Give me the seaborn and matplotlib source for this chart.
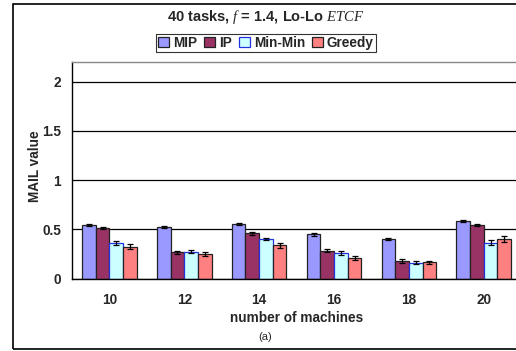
import matplotlib
matplotlib.use("Agg")
import matplotlib.pyplot as plt
from matplotlib.patches import Rectangle
import numpy as np
import pandas as pd
import seaborn as sns

machines = ["10", "12", "14", "16", "18", "20"]
mip = [0.543, 0.523, 0.560, 0.450, 0.400, 0.590]
ip = [0.510, 0.270, 0.460, 0.285, 0.177, 0.550]
minmin = [0.363, 0.275, 0.400, 0.265, 0.163, 0.363]
greedy = [0.326, 0.250, 0.340, 0.210, 0.167, 0.404]

mip_err = [0.008, 0.012, 0.010, 0.012, 0.012, 0.010]
ip_err = [0.010, 0.015, 0.015, 0.012, 0.020, 0.010]
minmin_err = [0.020, 0.015, 0.012, 0.020, 0.012, 0.025]
greedy_err = [0.025, 0.020, 0.025, 0.022, 0.015, 0.030]

methods = ["MIP", "IP", "Min-Min", "Greedy"]
colors = ["#9999FF", "#993366", "#CCFFFF", "#FF8080"]
edges = ["#222222", "#222222", "#2233DD", "#222222"]

values = [mip, ip, minmin, greedy]
errors = [mip_err, ip_err, minmin_err, greedy_err]

df = pd.DataFrame({
    "machines": np.repeat([machines], 4, axis=0).ravel(),
    "method": np.repeat(methods, len(machines)),
    "value": np.concatenate(values),
})

sns.set_style("white")
plt.rcParams["font.family"] = ["Liberation Sans", "DejaVu Sans"]
plt.rcParams["mathtext.fontset"] = "custom"
plt.rcParams["mathtext.it"] = "Liberation Serif:italic"
plt.rcParams["mathtext.rm"] = "Liberation Sans:bold"

FS = 9.8

fig = plt.figure(figsize=(5.16, 3.51), dpi=100)
ax = fig.add_axes([72 / 516, 1 - 278.7 / 351, 1 - 72 / 516 + 0.01, (278.7 - 62) / 351])

sns.barplot(data=df, x="machines", y="value", hue="method", order=machines,
            hue_order=methods, palette=colors, width=0.73, errorbar=None,
            saturation=1, ax=ax, legend=False)

for cont, errs, ec in zip(ax.containers, errors, edges):
    for bar, e in zip(cont, errs):
        bar.set_edgecolor(ec)
        bar.set_linewidth(0.9)
        cx = bar.get_x() + bar.get_width() / 2
        ax.errorbar(cx, bar.get_height(), yerr=e, fmt="none", ecolor="black",
                    elinewidth=0.9, capsize=2, capthick=0.9, zorder=5)

ax.set_ylim(0, 2.2)
ax.set_xlim(-0.5, len(machines) - 0.5)
ax.set_yticks([0, 0.5, 1, 1.5, 2])
ax.set_yticklabels(["0", "0.5", "1", "1.5", "2"], fontweight="bold", fontsize=FS)
ax.set_xticks(range(len(machines)))
ax.set_xticklabels(machines, fontweight="bold", fontsize=FS)
ax.set_xticks(np.arange(-0.5, len(machines), 1), minor=True)
ax.tick_params(axis="x", which="major", length=0, pad=10)
ax.tick_params(axis="x", which="minor", length=4, width=0.9, color="black", direction="out")
ax.tick_params(axis="y", length=4, width=0.9, color="black", direction="out", pad=4)
ax.yaxis.grid(True, color="black", linewidth=0.9)
ax.set_axisbelow(True)
for s in ["left", "bottom"]:
    ax.spines[s].set_color("black")
    ax.spines[s].set_linewidth(1.0)
ax.spines["top"].set_color("#888888")
ax.spines["top"].set_linewidth(1.0)
ax.spines["right"].set_visible(False)

ax.set_xlabel("number of machines", fontweight="bold", fontsize=FS, labelpad=3)
ax.set_ylabel("MAIL value", fontweight="bold", fontsize=FS)
ax.yaxis.set_label_coords(42 / 516, 1 - 166 / 351, transform=fig.transFigure)

fig.text(266 / 516, 1 - 17 / 351, r"40 tasks, $f$ = 1.4, Lo-Lo $ETCF$",
         ha="center", va="center", fontsize=10.5, fontweight="bold")
fig.text(265 / 516, 1 - 337 / 351, "(a)", ha="center", va="center", fontsize=8)

handles = [Rectangle((0, 0), 1, 1, facecolor=c, edgecolor=e, linewidth=0.9)
           for c, e in zip(colors, edges)]
leg = fig.legend(handles, methods, loc="center", bbox_to_anchor=(266 / 516, 1 - 43 / 351),
                 ncol=4, frameon=True, fancybox=False, edgecolor="black",
                 prop={"weight": "bold", "size": FS}, handlelength=0.8, handleheight=0.8,
                 handletextpad=0.3, columnspacing=0.5, borderpad=0.15, borderaxespad=0)
leg.get_frame().set_linewidth(0.8)

fig.patches.append(Rectangle((13 / 516, 1 - 349 / 351), 1.2, (349 - 4) / 351,
                             transform=fig.transFigure, fill=False,
                             edgecolor="black", linewidth=1.2, zorder=0))

fig.savefig("out.png", dpi=100)
